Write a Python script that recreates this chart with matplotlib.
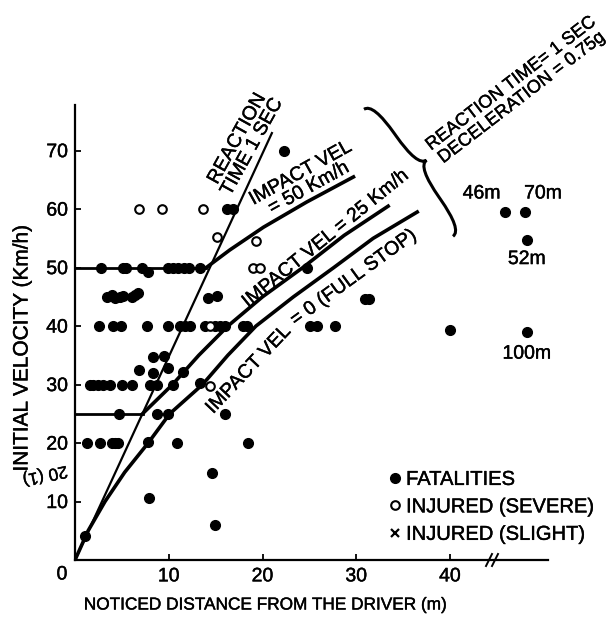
import matplotlib
matplotlib.use('Agg')
import matplotlib.pyplot as plt
import matplotlib.patheffects as pe
from matplotlib.path import Path
from matplotlib.patches import PathPatch
from matplotlib.text import Text
import numpy as np

plt.rcParams['font.family'] = ['Liberation Sans', 'DejaVu Sans']

# fatalities: noticed distance (m) / initial velocity (km/h)
fatal_d = [22.3, 16.2, 16.8,
           2.8, 5.1, 5.4, 7.1, 7.8, 9.9, 10.5, 11.0, 11.6, 12.2, 13.3, 24.7,
           3.4, 3.9, 4.3, 4.8, 5.1, 6.1, 6.4, 6.7, 14.2, 15.1, 30.9, 31.4,
           2.6, 4.0, 4.9, 7.7, 9.9, 11.2, 11.7, 12.3, 13.9, 14.9, 15.5, 16.0,
           17.9, 18.3, 25.1, 25.8, 27.7, 40.0,
           8.3, 9.5, 6.8, 8.3, 9.9, 11.5,
           1.6, 1.9, 2.5, 3.0, 3.7, 5.0, 6.1, 8.0, 8.7, 10.5, 13.3,
           4.7, 8.7, 9.9, 16.0,
           1.3, 2.7, 3.9, 4.3, 4.6, 7.8, 10.9, 18.5,
           14.6, 7.9, 14.9, 1.1]
fatal_v = [70, 60, 60,
           50, 50, 50, 50, 49.3, 50, 50, 50, 50, 50, 50, 50,
           45, 45.3, 44.8, 45, 45.2, 45, 45.3, 45.6, 44.8, 45.2, 44.6, 44.6,
           40, 40, 40, 40, 40, 40, 40, 40, 40, 40, 40, 40,
           40, 40, 40, 40, 40, 39.3,
           34.7, 34.9, 32.5, 32.0, 32.8, 32.2,
           30, 30, 30, 30, 30, 30, 30, 30, 30, 30, 30.2,
           25, 25, 25, 25,
           20, 20, 20, 20, 20, 20.2, 20, 20,
           14.9, 10.6, 6.0, 4.1]

# injured (severe)
severe_d = [6.8, 9.3, 13.7, 15.1, 19.3, 19.0, 19.7, 14.4, 14.4]
severe_v = [60, 60, 60, 55.2, 54.5, 50, 50, 40, 29.8]

# injured (slight): none in the plotted range
slight_d = []
slight_v = []

# far cases, drawn beyond the axis break
far_pos = [45.9, 48.0, 48.2, 48.2]
far_v = [59.5, 59.5, 54.7, 39.0]
far_labels = ['46m', '70m', '52m', '100m']

# reaction time 1 sec line
react_d = [0, 21.0]
react_v = [0, 73.0]

# impact velocity curves
stop_d = [0, 1.4, 3.2, 5.3, 7.8, 10.1, 13.6, 16.3, 19.3, 23.3, 27.6, 31.8, 36.5]
stop_v = [0, 5, 10, 15, 20, 25, 30, 35, 40, 45, 50, 55, 59.5]
imp25_d = [7.2, 10.4, 13.2, 16.3, 20.0, 24.3, 28.7, 33.4]
imp25_v = [25, 30, 35, 40, 45, 50, 55.5, 60.5]
imp50_d = [14.0, 16.5, 20.1, 24.7, 29.7]
imp50_v = [50, 53, 56.9, 61.2, 65.5]

fig = plt.figure(figsize=(6.16, 6.2), dpi=100)
ax = fig.add_axes([75/616, 1 - 560/620, 473/616, 455/620])

ax.plot(react_d, react_v, color='black', lw=1.6, zorder=2)
ax.plot(stop_d, stop_v, color='black', lw=2.6, zorder=2)
ax.plot(imp25_d, imp25_v, color='black', lw=2.6, zorder=2)
ax.plot(imp50_d, imp50_v, color='black', lw=2.6, zorder=2)
ax.plot([0, imp50_d[0]], [50, 50], color='black', lw=2.0, zorder=2)
ax.plot([0, imp25_d[0]], [25, 25], color='black', lw=2.0, zorder=2)

ax.plot(fatal_d, fatal_v, 'o', color='black', ms=7, ls='none', zorder=3, label='FATALITIES')
ax.plot(severe_d, severe_v, 'o', mfc='white', mec='black', mew=1.5, ms=6.2, ls='none', zorder=3,
        label='INJURED (SEVERE)')
ax.plot(slight_d, slight_v, 'x', color='black', mew=1.6, ms=6, ls='none', zorder=3,
        label='INJURED (SLIGHT)')
ax.plot(far_pos, far_v, 'o', color='black', ms=7, ls='none', zorder=3)

offs = [(-17, 13), (13, 13), (0, -14), (0, -16)]
for x, y, lab, o in zip(far_pos, far_v, far_labels, offs):
    ax.annotate(lab, (x, y), xytext=o, textcoords='offset points', ha='center', va='center', fontsize=14)

ax.set_xlim(0, 50.45)
ax.set_ylim(0, 77.8)
ax.set_xticks([10, 20, 30, 40])
ax.set_yticks([10, 20, 30, 40, 50, 60, 70])
for s in ['top', 'right']:
    ax.spines[s].set_visible(False)
for s in ['left', 'bottom']:
    ax.spines[s].set_linewidth(1.6)
ax.tick_params(direction='in', length=4, width=1.3, labelsize=14)
ax.tick_params(axis='x', pad=6)
ax.tick_params(axis='y', pad=5)

leg = ax.legend(loc='upper left', bbox_to_anchor=(0.668, 0.198), frameon=False, fontsize=14.5,
                handlelength=0.45, handletextpad=0.3, labelspacing=0.42, borderpad=0,
                borderaxespad=0)

# overlay in pixel coordinates for the free annotations
ov = fig.add_axes([0, 0, 1, 1])
ov.set_xlim(0, 616)
ov.set_ylim(620, 0)
ov.axis('off')

ov.text(62, 575, '0', ha='center', va='center', fontsize=14)
ov.text(265, 605, 'NOTICED DISTANCE FROM THE DRIVER (m)', ha='center', va='center', fontsize=12.4)
ov.text(22, 348, 'INITIAL VELOCITY (Km/h)', ha='center', va='center', rotation=90, fontsize=15)
ov.text(45, 475, '20 (1)', ha='center', va='center', rotation=192, fontsize=12.5)

kw = dict(ha='center', va='center', rotation_mode='anchor', fontsize=14)
ov.text(245, 143, 'REACTION\nTIME 1 SEC', rotation=61, linespacing=1.0, **kw)
ov.text(305, 181, 'IMPACT VEL\n= 50 Km/h', rotation=29, linespacing=1.0, **kw)
ov.text(326, 239, 'IMPACT VEL = 25 Km/h', rotation=39, **kw)
ov.text(249, 370, 'IMPACT VEL', rotation=46.5, **kw)
ov.text(354, 278, '= 0 (FULL STOP)', rotation=36, **kw)
ov.text(516, 91, 'REACTION TIME= 1 SEC\nDECELERATION = 0.75g', rotation=37.5, linespacing=1.05,
        ha='center', va='center', rotation_mode='anchor', fontsize=13)

# curly brace next to the model note
A = np.array([373.0, 103.0])
B = np.array([462.0, 230.0])
M = (A + B) / 2
L = np.linalg.norm(B - A)
u = (B - A) / L
n = np.array([u[1], -u[0]])
h, r = 11.0, 38.0
loc = [(-L/2, -h), (-L/2, 0), (-L/2 + r, 0), (-r, 0), (0, 0), (0, h),
       (0, 0), (r, 0), (L/2 - r, 0), (L/2, 0), (L/2, -h)]
codes = [Path.MOVETO, Path.CURVE3, Path.CURVE3, Path.LINETO, Path.CURVE3, Path.CURVE3,
         Path.CURVE3, Path.CURVE3, Path.LINETO, Path.CURVE3, Path.CURVE3]
verts = [M + s * u + w * n for s, w in loc]
ov.add_patch(PathPatch(Path(verts, codes), fill=False, lw=2.2, color='black'))

# axis break marks
for bx in [489, 495]:
    ov.plot([bx - 3, bx + 3], [566, 554], color='black', lw=1.4)

# slightly heavier lettering, like the printed original
for t in fig.findobj(Text):
    t.set_path_effects([pe.withStroke(linewidth=0.3, foreground='black')])

fig.savefig('out.png', dpi=100)
